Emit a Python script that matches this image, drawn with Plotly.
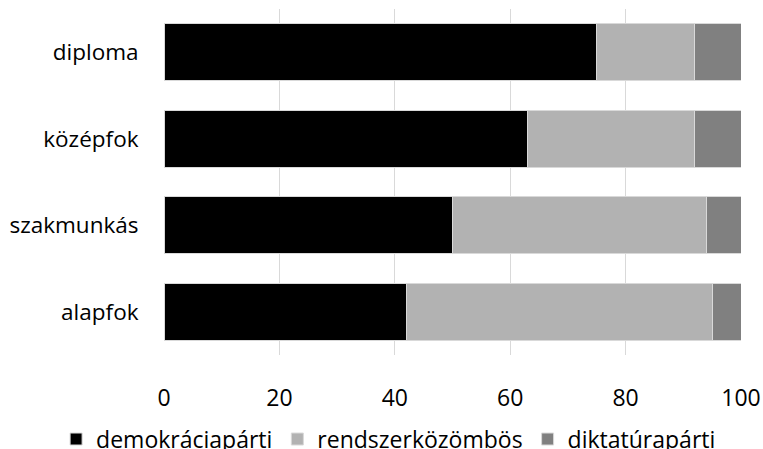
import plotly.graph_objects as go

categories = ['alapfok', 'szakmunkás', 'középfok', 'diploma']
demokraciaparti = [42, 50, 63, 75]
rendszerkozombos = [53, 44, 29, 17]
diktaturaparti = [5, 6, 8, 8]

series = [
    ('demokráciapárti', demokraciaparti, '#000000'),
    ('rendszerközömbös', rendszerkozombos, '#b2b2b2'),
    ('diktatúrapárti', diktaturaparti, '#808080'),
]

fig = go.Figure()
for name, vals, color in series:
    fig.add_trace(go.Bar(
        y=categories, x=vals, name=name, orientation='h',
        marker=dict(color=color, line=dict(color='#d9d9d9', width=1)),
    ))

fig.update_layout(
    barmode='stack',
    bargap=0.34,
    width=763, height=449,
    margin=dict(l=164, r=22, t=9, b=94, autoexpand=False),
    paper_bgcolor='white', plot_bgcolor='white',
    font=dict(family='Open Sans', size=23, color='#000000'),
    legend=dict(orientation='h', x=-0.187, xanchor='left', y=-0.243, yanchor='middle',
                font=dict(size=23), traceorder='normal', itemwidth=30),
    showlegend=True,
)
fig.update_xaxes(range=[0, 100], dtick=20, showgrid=True, gridcolor='#d9d9d9', gridwidth=1,
                 zeroline=False, showline=False, ticks='outside', ticklen=22,
                 tickcolor='rgba(0,0,0,0)', automargin=False)
fig.update_yaxes(showgrid=False, zeroline=False, showline=False, ticks='outside',
                 ticklen=20, tickcolor='rgba(0,0,0,0)', automargin=False,
                 tickfont=dict(size=22.5))

# page body margin would shift the figure by 8px and add scrollbars
fig.write_html("out.html", config={'displayModeBar': False},
               post_script="document.body.style.margin='0';")
